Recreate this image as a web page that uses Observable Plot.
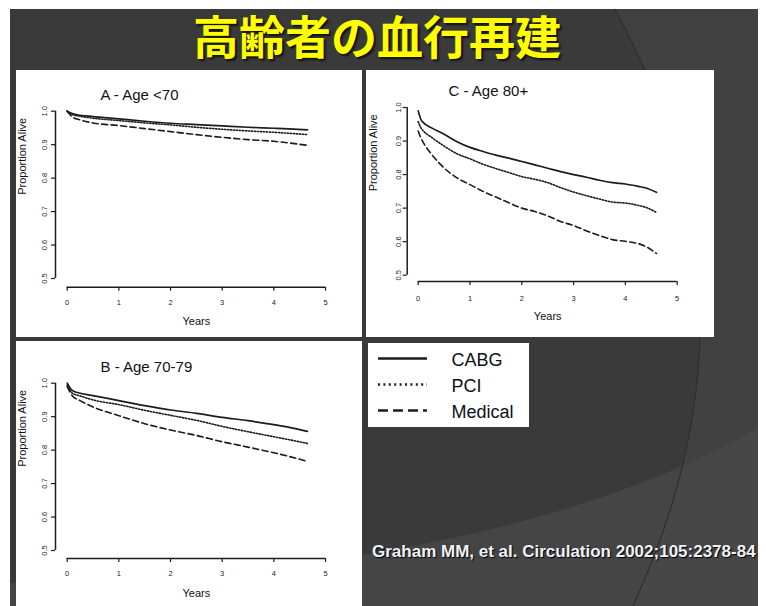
<!DOCTYPE html>
<html>
<head>
<meta charset="utf-8">
<script src="https://cdn.jsdelivr.net/npm/d3@7"></script>
<script src="https://cdn.jsdelivr.net/npm/@observablehq/plot@0.6"></script>
<style>
  body { margin: 0; background: #fff; }
  #stage { position: relative; width: 766px; height: 606px; overflow: hidden; }
  #bg { position: absolute; left: 0; top: 0; }
  .panel { position: absolute; background: #fff; }
  .panel svg { display: block; }
  #title { position: absolute; left: 0; width: 754px; top: 10px; text-align: center;
    font-family: "Noto Sans CJK JP", sans-serif; font-weight: bold; font-size: 46px; line-height: 48px;
    color: #ffff00; text-shadow: 2px 2px 2px #111; letter-spacing: 0px; }
  #cite { position: absolute; left: 372px; top: 541px; font-family: "Liberation Sans", Arial, sans-serif;
    font-weight: bold; font-size: 17px; line-height: 21px; color: #eef2fa; text-shadow: 1px 1px 1px #000; white-space: nowrap; }
</style>
</head>
<body>
<div id="stage">
  <svg id="bg" width="766" height="606">
    <rect x="10" y="9" width="748" height="597" fill="#3a3a3a"/>
    <path d="M615,9 C680,130 760,330 633,606 L758,606 L758,9 Z" fill="#414141"/>
    <path d="M10,583 Q500,575 758,428 L758,606 L10,606 Z" fill="#4a4a4a" opacity="0.75"/>
    <path d="M615,9 C680,130 760,330 633,606" fill="none" stroke="#2f2f2f" stroke-width="1.2"/>
  </svg>
  <div id="title">高齢者の血行再建</div>
  <div id="pA" class="panel" style="left:16px;top:70px;"></div>
  <div id="pC" class="panel" style="left:366px;top:70px;"></div>
  <div id="pB" class="panel" style="left:16px;top:341px;"></div>
  <div id="leg" class="panel" style="left:368px;top:343px;"></div>
  <div id="cite">Graham MM, et al. Circulation 2002;105:2378-84</div>
</div>
<script>
// ---------- data ----------
const seriesNames = ["CABG", "PCI", "Medical"];
const titleA = "A - Age <70";
const titleB = "B - Age 70-79";
const titleC = "C - Age 80+";
const xLabel = "Years";
const yLabel = "Proportion Alive";
const xTicks = [0, 1, 2, 3, 4, 5];
const yTicks = [0.5, 0.6, 0.7, 0.8, 0.9, 1.0];

const yearsA   = [0, 0.1, 0.25, 0.5, 1, 1.5, 2, 2.5, 3, 3.5, 4, 4.3, 4.65];
const cabgA    = [1.0, 0.993, 0.988, 0.984, 0.977, 0.970, 0.964, 0.960, 0.956, 0.952, 0.949, 0.947, 0.944];
const pciA     = [1.0, 0.990, 0.985, 0.979, 0.972, 0.965, 0.959, 0.952, 0.946, 0.941, 0.937, 0.934, 0.930];
const medicalA = [1.0, 0.983, 0.974, 0.965, 0.957, 0.948, 0.939, 0.930, 0.922, 0.915, 0.910, 0.905, 0.898];

const yearsB   = [0, 0.1, 0.25, 0.5, 1, 1.5, 2, 2.5, 3, 3.5, 4, 4.3, 4.65];
const cabgB    = [1.0, 0.978, 0.970, 0.963, 0.948, 0.933, 0.920, 0.910, 0.898, 0.888, 0.876, 0.868, 0.856];
const pciB     = [0.995, 0.970, 0.962, 0.950, 0.936, 0.919, 0.904, 0.889, 0.871, 0.855, 0.840, 0.831, 0.820];
const medicalB = [0.990, 0.962, 0.948, 0.929, 0.903, 0.879, 0.860, 0.844, 0.825, 0.809, 0.792, 0.781, 0.766];

const yearsC   = [0, 0.05, 0.1, 0.25, 0.5, 0.75, 1, 1.25, 1.5, 1.75, 2, 2.25, 2.5, 2.75, 3, 3.25, 3.5, 3.75, 4, 4.25, 4.4, 4.6];
const cabgC    = [0.990, 0.965, 0.955, 0.940, 0.920, 0.898, 0.881, 0.869, 0.858, 0.849, 0.839, 0.829, 0.819, 0.809, 0.800, 0.792, 0.783, 0.776, 0.772, 0.765, 0.760, 0.747];
const pciC     = [0.958, 0.940, 0.930, 0.912, 0.885, 0.862, 0.847, 0.831, 0.818, 0.806, 0.794, 0.786, 0.776, 0.761, 0.748, 0.737, 0.727, 0.718, 0.715, 0.708, 0.702, 0.687];
const medicalC = [0.930, 0.910, 0.895, 0.862, 0.820, 0.790, 0.770, 0.750, 0.733, 0.716, 0.700, 0.690, 0.677, 0.660, 0.648, 0.632, 0.618, 0.606, 0.601, 0.594, 0.585, 0.565];

// ---------- styles ----------
const ink = "#1c1c1c";
const dashes = [null, "1.3,1.7", "6,3.5"];
const legendDashes = [null, "2,3.4", "10,5"];
const font = "'Liberation Sans', Arial, Helvetica, sans-serif";

function panel(el, cfg, title, years, series) {
  const marks = [];
  // R-style detached axes
  marks.push(Plot.ruleY([yTicks[0]], {x1: xTicks[0], x2: xTicks[xTicks.length - 1], dy: cfg.xOff, stroke: ink, strokeWidth: 1.5}));
  marks.push(Plot.ruleX([xTicks[0]], {y1: yTicks[0], y2: yTicks[yTicks.length - 1], dx: cfg.yOff, stroke: ink, strokeWidth: 1.5}));
  marks.push(Plot.axisX({ticks: xTicks, tickSize: 4, tickPadding: cfg.xPad, dy: cfg.xOff, label: null,
    tickFormat: d3.format("d"), fontSize: 7.5, stroke: ink, fill: ink, strokeWidth: 1.2}));
  marks.push(Plot.axisY({ticks: yTicks, tickSize: 4, tickPadding: cfg.yPad, dx: cfg.yOff, label: null, tickRotate: -90,
    tickFormat: d3.format(".1f"), fontSize: 7.5, stroke: ink, fill: ink, strokeWidth: 1.2}));
  series.forEach((vals, i) => {
    const rows = years.map((t, j) => ({t, s: vals[j], series: seriesNames[i]}));
    marks.push(Plot.line(rows, {x: "t", y: "s", stroke: ink, strokeWidth: i === 0 ? 1.7 : 1.6,
      strokeDasharray: dashes[i], curve: "monotone-x"}));
  });
  marks.push(Plot.text([title], {frameAnchor: "top-left", textAnchor: "start", lineAnchor: "middle",
    dx: cfg.tDx, dy: cfg.tDy, fontSize: 15, fill: "#111"}));
  marks.push(Plot.text([yLabel], {frameAnchor: "left", rotate: -90, dx: cfg.ylDx, fontSize: 11, fill: "#111"}));
  marks.push(Plot.text([xLabel], {frameAnchor: "bottom", dy: cfg.xlDy, fontSize: 11, fill: "#111"}));
  const chart = Plot.plot({
    width: cfg.w, height: cfg.h,
    marginLeft: cfg.ml, marginRight: cfg.mr, marginTop: cfg.mt, marginBottom: cfg.mb,
    x: {domain: [xTicks[0], xTicks[xTicks.length - 1]]},
    y: {domain: [yTicks[0], yTicks[yTicks.length - 1]]},
    style: {background: "white", fontFamily: font, color: ink, overflow: "visible"},
    marks
  });
  document.getElementById(el).appendChild(chart);
}

panel("pA", {w: 346, h: 267, ml: 50.7, mr: 37, mt: 40.7, mb: 59, xOff: 8.7, yOff: -11.7, xPad: 8, yPad: 4.5,
  tDx: 33.3, tDy: -15.7, ylDx: -44.7, xlDy: 46}, titleA, yearsA, [cabgA, pciA, medicalA]);
panel("pC", {w: 348, h: 267, ml: 51.7, mr: 37.3, mt: 37, mb: 62.3, xOff: 6.3, yOff: -11, xPad: 10, yPad: 2.5,
  tDx: 30.3, tDy: -16, ylDx: -44.7, xlDy: 45}, titleC, yearsC, [cabgC, pciC, medicalC]);
panel("pB", {w: 346, h: 265, ml: 50.7, mr: 37, mt: 41.7, mb: 56, xOff: 8, yOff: -11.7, xPad: 8.3, yPad: 4.5,
  tDx: 33.3, tDy: -15.7, ylDx: -44.7, xlDy: 46}, titleB, yearsB, [cabgB, pciB, medicalB]);

// legend
const legend = Plot.plot({
  width: 161, height: 84, margin: 0,
  x: {domain: [0, 1], range: [10, 59], axis: null},
  y: {type: "point", domain: seriesNames, range: [14.3, 67.7], padding: 0, axis: null},
  style: {background: "white", fontFamily: font, color: ink},
  marks: [
    ...seriesNames.map((s, i) => Plot.ruleY([s], {x1: 0, x2: 1, stroke: ink, strokeWidth: 2.3, strokeDasharray: legendDashes[i]})),
    Plot.text(seriesNames, {y: d => d, x: 1, dx: 24, dy: 1.5, textAnchor: "start", fontSize: 18, fill: "#111"})
  ]
});
document.getElementById("leg").appendChild(legend);
</script>
</body>
</html>
